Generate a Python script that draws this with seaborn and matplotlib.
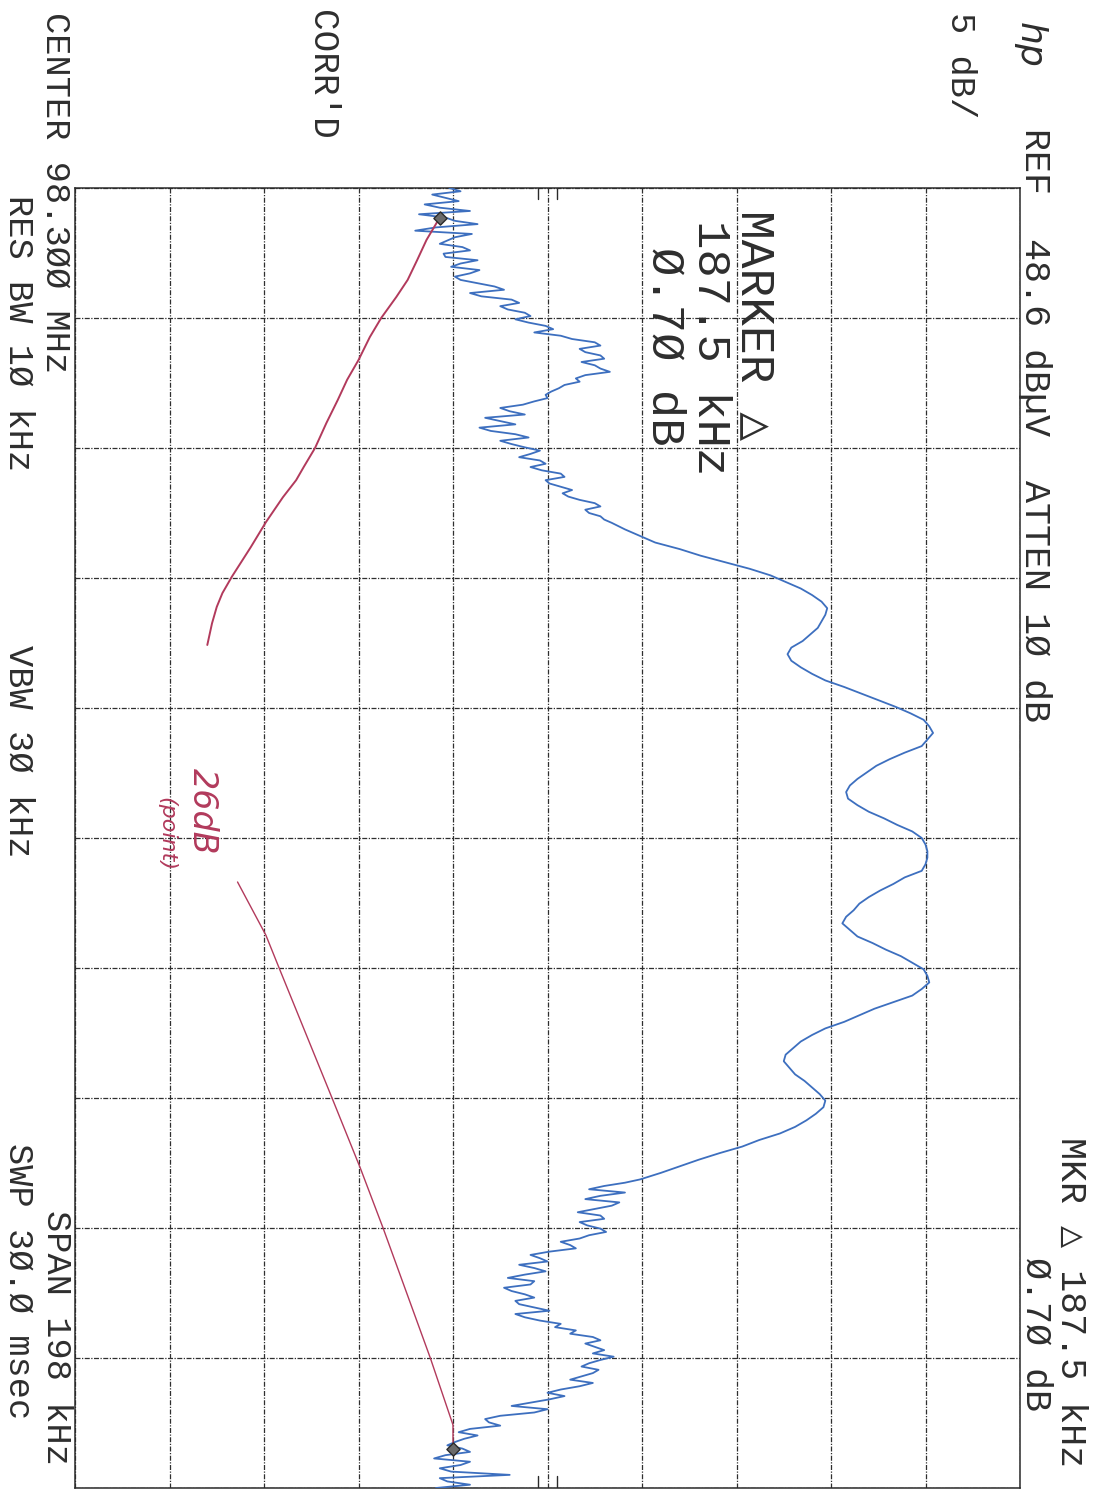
import numpy as np
import pandas as pd
import matplotlib
matplotlib.use("Agg")
import matplotlib.pyplot as plt
import seaborn as sns

# ------------------------------------------------------------------ data
center_mhz = 98.300
span_khz = 198.0
ref_level_dbuv = 48.6
db_per_div = 5.0
n_div = 10

# sweep points, 1 kHz apart, offset from centre frequency (kHz)
trace_freq_khz = np.linspace(-span_khz / 2, span_khz / 2, 199)
trace_level_dbuv = [
    18.4, 17.5, 18.9, 17.9, 16.8, 18.7, 17.7, 19.6, 18.3, 19.1,
    18.1, 19.9, 18.5, 19.5, 19.0, 20.8, 19.5, 21.7, 21.1, 22.4,
    21.9, 23.5, 22.9, 24.9, 26.4, 25.6, 26.6, 26.1, 26.9, 25.1,
    24.5, 23.8, 23.6, 22.3, 21.6, 20.3, 21.9, 20.6, 22.6, 21.7,
    23.2, 22.1, 23.5, 23.3, 24.5, 23.7, 24.9, 24.7, 26.1, 25.6,
    26.4, 27.0, 27.7, 28.5, 29.3, 30.6, 31.7, 33.0, 34.3, 35.4,
    36.2, 37.0, 37.6, 38.1, 38.4, 38.3, 38.1, 37.9, 37.5, 37.1,
    36.5, 36.3, 36.5, 37.0, 37.6, 38.3, 39.3, 40.2, 41.1, 42.0,
    42.8, 43.5, 43.8, 44.0, 43.7, 43.4, 42.5, 41.7, 41.0, 40.5,
    40.0, 39.6, 39.4, 39.5, 40.0, 40.6, 41.4, 42.1, 42.9, 43.4,
    43.6, 43.7, 43.7, 43.6, 43.4, 42.5, 41.9, 41.2, 40.6, 40.1,
    39.8, 39.4, 39.2, 39.6, 40.0, 40.8, 41.5, 42.3, 42.9, 43.5,
    43.7, 43.8, 43.4, 42.9, 41.9, 40.9, 40.1, 39.3, 38.3, 37.6,
    37.0, 36.6, 36.2, 36.1, 36.4, 36.7, 37.2, 37.6, 38.0, 38.3,
    38.2, 37.8, 37.3, 36.7, 35.9, 34.8, 33.9, 32.7, 31.6, 30.6,
    29.6, 28.5, 26.6, 27.7, 25.6, 27.0, 25.2, 26.6, 25.7, 26.7,
    25.3, 24.8, 23.7, 23.2, 22.1, 23.5, 21.5, 22.7, 21.7, 22.9,
    22.1, 23.7, 22.4, 24.3, 25.1, 26.0, 25.6, 26.6, 27.1, 25.8,
    26.3, 25.4, 26.0, 24.3, 24.5, 22.7, 23.6, 21.1, 20.5, 19.5,
    19.9, 18.7, 19.1, 18.2, 19.5, 17.9, 21.6, 18.3, 17.7,
]

# extra noise samples read between the 1 kHz points in the noisy skirts
skirt_low_freq_khz = np.arange(-98.5, -48.0, 1.0)
skirt_low_level_dbuv = [
    19.0, 18.2, 17.1, 19.5, 18.2, 19.9, 16.6, 18.7, 17.9, 19.5,
    18.2, 19.0, 20.0, 18.7, 19.9, 21.3, 20.1, 22.1, 21.5, 22.7,
    22.6, 23.9, 24.3, 26.1, 25.3, 26.4, 25.4, 26.4, 25.6, 25.3,
    24.2, 23.5, 22.9, 21.1, 22.4, 21.1, 20.0, 21.9, 21.1, 22.4,
    22.7, 23.2, 22.7, 24.3, 23.5, 24.3, 24.4, 25.3, 26.4, 25.8,
    26.6,
]
skirt_high_freq_khz = np.arange(52.5, 99.0, 1.0)
skirt_high_level_dbuv = [
    27.7, 25.8, 26.4, 27.4, 26.1, 26.4, 25.3, 26.4, 25.8, 24.3,
    25.1, 22.7, 23.6, 22.9, 22.4, 22.9, 21.3, 22.4, 21.9, 22.9,
    21.9, 23.2, 24.0, 24.8, 26.4, 26.1, 26.0, 26.4, 25.4, 26.0,
    24.8, 25.3, 23.6, 23.7, 21.7, 22.9, 20.3, 21.1, 18.9, 19.2,
    18.3, 19.5, 17.6, 19.0, 18.5, 17.9, 19.5,
]

marker_freq_khz = [-94.5, 93.0]
marker_level_dbuv = [17.9, 18.6]

# hand-drawn pen annotation (red ink)
pen_upper_freq_khz = [-94.5, -91.1, -88.0, -85.0, -82.4, -79.2, -76.3, -72.8,
                      -69.8, -66.7, -63.2, -59.4, -56.5, -54.5, -51.9, -48.1,
                      -44.3, -39.8, -37.3, -35.2, -32.7, -29.4]
pen_upper_level = [17.9, 17.2, 16.7, 16.2, 15.6, 14.8, 14.2, 13.6,
                   13.0, 12.5, 11.9, 11.3, 10.7, 10.3, 9.6, 8.7,
                   7.9, 6.9, 6.4, 6.1, 5.85, 5.6]
pen_lower_freq_khz = [6.7, 14.8, 19.8, 39.6, 50.3, 59.4, 79.2, 89.4, 93.0]
pen_lower_level = [7.2, 8.7, 9.4, 12.2, 13.7, 14.9, 17.4, 18.6, 18.6]
pen_note = "26dB"
pen_note_small = "(point)"

# display-line tick marks on top / bottom graticule edge (dBuV)
edge_tick_levels = [23.1, 24.1]

header_line = "REF  48.6 dBµV  ATTEN 1Ø dB"
scale_label = "5 dB/"
mkr_line = "MKR △ 187.5 kHz"
mkr_delta_line = "Ø.7Ø dB"
corr_label = "CORR'D"
center_label = "CENTER 98.3ØØ MHz"
resbw_label = "RES BW 1Ø kHz"
vbw_label = "VBW 3Ø kHz"
span_label = "SPAN 198 kHz"
swp_label = "SWP 3Ø.Ø msec"
marker_box = ["MARKER △", "187.5 kHz", "Ø.7Ø dB"]

# ------------------------------------------------------------------ style
sns.set_theme(style="white")
MONO = ["Liberation Mono", "DejaVu Sans Mono", "DejaVu Sans"]
plt.rcParams["font.family"] = MONO

W, H = 1107, 1491
fig = plt.figure(figsize=(W / 100, H / 100), dpi=100)
fig.patch.set_facecolor("white")

def fx(px):
    return px / W

def fy(py):
    return 1 - py / H

ax = fig.add_axes([fx(75), fy(1488), 945 / W, 1300 / H])
ax.set_facecolor("white")

bottom_db = ref_level_dbuv - db_per_div * n_div
ax.set_xlim(bottom_db, ref_level_dbuv)
ax.set_ylim(span_khz / 2, -span_khz / 2)
ax.set_xticks([bottom_db + db_per_div * i for i in range(n_div + 1)])
ax.set_yticks([-span_khz / 2 + span_khz / n_div * i for i in range(n_div + 1)])
ax.tick_params(length=0, labelbottom=False, labelleft=False)
ax.grid(True, color="#2f2f2f", lw=0.9, ls=(0, (4, 1.2, 1, 1.2)))
for s in ax.spines.values():
    s.set_color("#2a2a2a")
    s.set_linewidth(1.1)

trace_df = pd.DataFrame({
    "freq": np.concatenate([trace_freq_khz, skirt_low_freq_khz, skirt_high_freq_khz]),
    "level": np.concatenate([trace_level_dbuv, skirt_low_level_dbuv, skirt_high_level_dbuv]),
}).sort_values("freq")
sns.lineplot(data=trace_df, x="level", y="freq", sort=False, estimator=None,
             color="#3d6fbf", lw=1.3, ax=ax, zorder=3)

pen_color = "#b23a5c"
sns.lineplot(x=pen_upper_level, y=pen_upper_freq_khz, sort=False, estimator=None,
             color=pen_color, lw=1.4, ax=ax, zorder=4)
sns.lineplot(x=pen_lower_level, y=pen_lower_freq_khz, sort=False, estimator=None,
             color=pen_color, lw=1.0, ax=ax, zorder=4)

sns.scatterplot(x=marker_level_dbuv, y=marker_freq_khz, marker="D", s=45,
                color="#6a6a6a", edgecolor="#2a2a2a", linewidth=1.0, ax=ax, zorder=5)

for lv in edge_tick_levels:
    ax.plot([lv, lv], [-span_khz / 2, -span_khz / 2 + 1.6], color="#2a2a2a", lw=1.0)
    ax.plot([lv, lv], [span_khz / 2, span_khz / 2 - 1.8], color="#2a2a2a", lw=1.0)

ax.set_xlabel("")
ax.set_ylabel("")

# ------------------------------------------------------------------ text
TXT = "#2e2e2e"

def vtext(xp, yp, s, size, **kw):
    kw.setdefault("color", TXT)
    kw.setdefault("family", MONO)
    fig.text(fx(xp), fy(yp), s, rotation=270, ha="center", va="top",
             fontsize=size, **kw)

vtext(1030, 22, "hp", 26, style="italic", family=["DejaVu Sans"])
vtext(960, 12, scale_label, 25.5)
vtext(1034, 128, header_line, 26.5)
vtext(1071, 1137, mkr_line, 26.5)
vtext(1036, 1257, mkr_delta_line, 26.5)
vtext(322, 10, corr_label, 26)
vtext(56, 12, center_label, 25.5)
vtext(19, 195, resbw_label, 25.5)
vtext(19, 645, vbw_label, 25.5)
vtext(56, 1210, span_label, 25.5)
vtext(19, 1143, swp_label, 25.5)

vtext(754, 210, marker_box[0], 34.5)
vtext(710, 220, marker_box[1], 34)
vtext(664, 247, marker_box[2], 34)

vtext(202, 768, pen_note, 24, color=pen_color, family=["DejaVu Sans"], style="italic")
vtext(166, 797, pen_note_small, 16, color=pen_color, family=["DejaVu Sans"], style="italic")

fig.savefig("out.png", dpi=100, facecolor="white")
